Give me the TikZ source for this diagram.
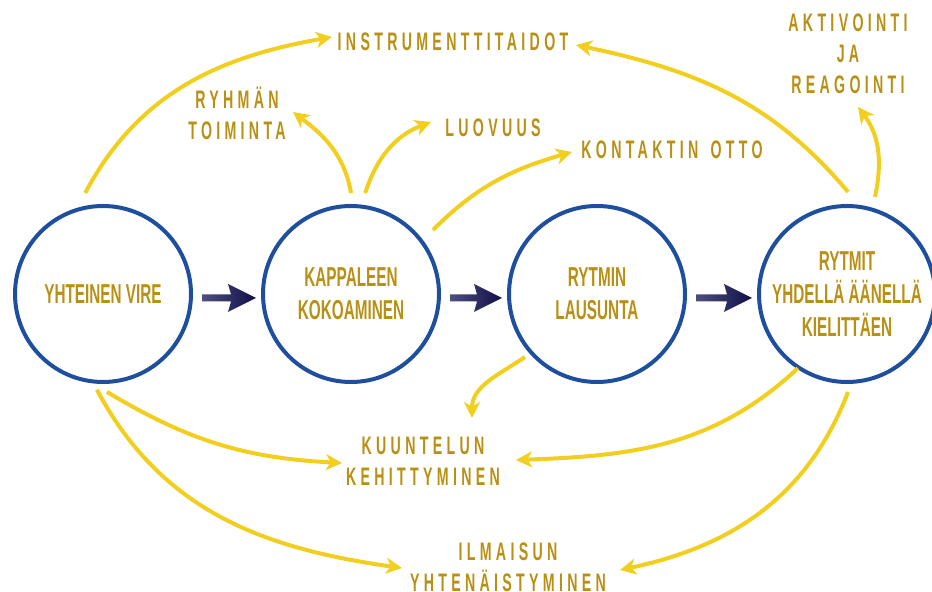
\documentclass[tikz,border=0pt]{standalone}
\usepackage{fontspec}
\usetikzlibrary{calc,arrows.meta}
% condensed faces for stage names and for the spaced-out topic labels
\newfontfamily\stagefont{Liberation Sans}[FakeStretch=0.56]
\newfontfamily\topicfont{Liberation Sans}[FakeStretch=0.56,LetterSpace=17]
\definecolor{ringblue}{RGB}{30,78,158}
\definecolor{goldtext}{RGB}{184,144,20}
\definecolor{linkyellow}{RGB}{242,206,30}
\definecolor{navylight}{RGB}{78,78,128}
\definecolor{navydark}{RGB}{16,16,72}
\begin{document}
\begin{tikzpicture}[x=0.75pt,y=0.75pt,
  stage/.style={circle,draw=ringblue,line width=3pt,minimum size=132pt,
    inner sep=0pt,outer sep=0pt,text=goldtext,align=center,
    font={\stagefont\bfseries\fontsize{20.5}{24.75}\selectfont}},
  topic/.style={text=goldtext,align=center,inner sep=0pt,
    font={\topicfont\bfseries\fontsize{19}{23.25}\selectfont}},
  link/.style={draw=linkyellow,line width=3pt,
    -{Stealth[length=12pt,width=12pt,inset=3.5pt]}},
  flow/.style={left color=navylight,right color=navydark,draw=none},
]
\path[use as bounding box] (0,0) rectangle (932,592);

% the four stages
\node[stage] (c1) at (103,298) {YHTEINEN VIRE};
\node[stage] (c2) at (351,298) {KAPPALEEN\\KOKOAMINEN};
\node[stage] (c3) at (597,298) {RYTMIN\\LAUSUNTA};
\node[stage] (c4) at (847,298) {RYTMIT\\YHDELLÄ ÄÄNELLÄ\\KIELITTÄEN};

% outcome labels
\node[topic] (instr)   at (453,550)   {INSTRUMENTTITAIDOT};
\node[topic] (ryhma)   at (237,478.5) {RYHMÄN\\TOIMINTA};
\node[topic] (luov)    at (493,464)   {LUOVUUS};
\node[topic] (kontakt) at (672,442)   {KONTAKTIN\hspace{3pt} OTTO};
\node[topic] (aktiv)   at (848,538)   {AKTIVOINTI\\JA\\REAGOINTI};
\node[topic] (kuunt)   at (423,130.5) {KUUNTELUN\\KEHITTYMINEN};
\node[topic] (ilmai)   at (508,25)    {ILMAISUN\\YHTENÄISTYMINEN};

% shaded arrows between consecutive stages
\foreach \a/\b in {c1/c2,c2/c3,c3/c4}{
  \path[flow] let \p1=($(\a.east)+(11,-4)$), \p2=($(\b.west)+(-7,-4)$) in
    ($(\p1)+(0,3.5)$) -- ($(\p2)+(-25,3.5)$) -- ($(\p2)+(-28,14)$) -- (\p2)
    -- ($(\p2)+(-28,-14)$) -- ($(\p2)+(-25,-3.5)$) -- ($(\p1)+(0,-3.5)$) -- cycle;
}

% links from stages to outcomes
\draw[link] ($(c1)+(100:102.6)$) to[out=62,in=190]  ($(instr)+(-121,5)$);
\draw[link] ($(c4)+(89.4:102)$)  to[out=130,in=-12] ($(instr)+(123,-3)$);
\draw[link] ($(c2)+(90:101)$)    to[out=100,in=-37] ($(ryhma)+(56,1.5)$);
\draw[link] ($(c2)+(82:102)$)    to[out=72,in=-159] ($(luov)+(-62,6)$);
\draw[link] ($(c2)+(38:104)$)    to[out=45,in=-164] ($(kontakt)+(-100,-2)$);
\draw[link] ($(c4)+(73.9:101)$)  to[out=78,in=-53]  ($(aktiv)+(10,-53)$);
\draw[link] ($(c3)+(221.2:95.7)$) to[out=214,in=90] ($(kuunt)+(49,43.5)$);
\draw[link] ($(c1)+(272.3:98)$)  to[out=-31,in=177] ($(kuunt)+(-81,-1.5)$);
\draw[link] ($(c4)+(236.5:89)$)  to[out=223,in=2]   ($(kuunt)+(93,1.5)$);
\draw[link] ($(c1)+(266.4:96)$)  to[out=-62,in=172] ($(ilmai)+(-106,-1)$);
\draw[link] ($(c4)+(270.6:98)$)  to[out=249,in=12]  ($(ilmai)+(112,-3)$);
\end{tikzpicture}
\end{document}
